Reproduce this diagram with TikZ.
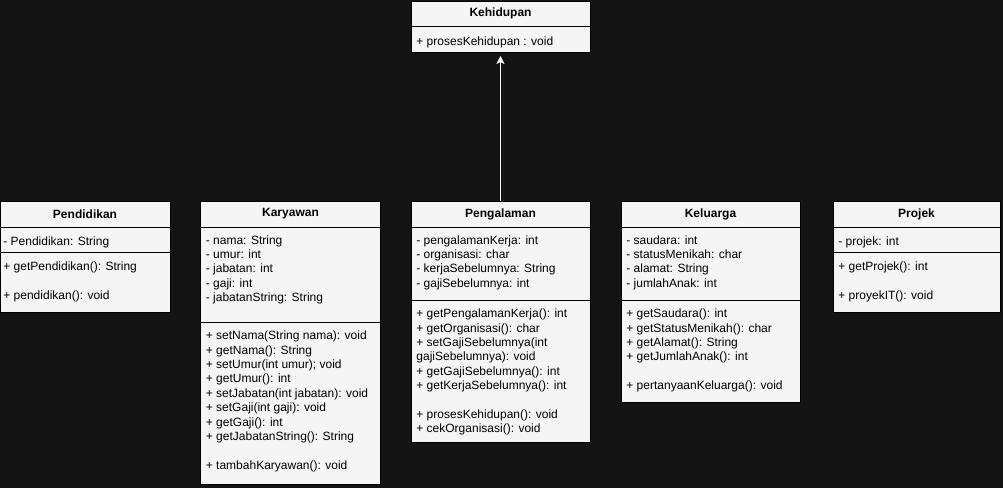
\documentclass[tikz,border=0pt]{standalone}
\usepackage{fontspec}
\setmainfont{Liberation Sans}
\usetikzlibrary{arrows.meta}
\definecolor{latar}{HTML}{141414}
\definecolor{isi}{HTML}{F5F5F5}

\begin{document}
\begin{tikzpicture}[x=1pt,y=-1pt,line width=0.8pt,>={Stealth[length=8pt,width=8pt,inset=2pt]},
  kelas/.style={draw=black,fill=isi,anchor=north west,inner sep=0pt,outer sep=0pt},
  judul/.style={inner sep=0pt,font=\fontsize{12}{14.4}\selectfont\bfseries},
  isian/.style={anchor=north west,align=left,inner sep=0pt,font=\fontsize{12}{14.4}\selectfont,
    execute at begin node={\rule{0pt}{10pt}}}]
  % latar
  \fill[latar] (0,0) rectangle (1003,488);
  \useasboundingbox (0,0) rectangle (1003,488);
  % Kehidupan
  \node[kelas,minimum width=179pt,minimum height=51pt] (kehidupan) at (411,1) {};
  \draw (411,26)--(590,26);
  \node[judul] (kehidupan-nama) at (500.5,13.5) {Kehidupan};
  \node[isian] (kehidupan-met) at (416,35) {+ prosesKehidupan : void};
  % Pendidikan
  \node[kelas,minimum width=170pt,minimum height=111pt] (pendidikan) at (0,201) {};
  \draw (0,227)--(170,227) (0,252)--(170,252);
  \node[judul] (pendidikan-nama) at (85,214) {Pendidikan};
  \node[isian] (pendidikan-atr) at (3,235) {- Pendidikan: String};
  \node[isian] (pendidikan-met) at (3,261.5) {+ getPendidikan(): String\\ \\+ pendidikan(): void};
  % Karyawan
  \node[kelas,minimum width=180pt,minimum height=283pt] (karyawan) at (200.5,201) {};
  \draw (200.5,227)--(380.5,227) (200.5,322)--(380.5,322);
  \node[judul] (karyawan-nama) at (290.5,214) {Karyawan};
  \node[isian] (karyawan-atr) at (205.5,235) {- nama: String\\- umur: int\\- jabatan: int\\- gaji: int\\- jabatanString: String};
  \node[isian] (karyawan-met) at (205.5,330.5) {+ setNama(String nama): void\\+ getNama(): String\\+ setUmur(int umur); void\\+ getUmur(): int\\+ setJabatan(int jabatan): void\\+ setGaji(int gaji): void\\+ getGaji(): int\\+ getJabatanString(): String\\ \\+ tambahKaryawan(): void};
  % Pengalaman
  \node[kelas,minimum width=179pt,minimum height=241pt] (pengalaman) at (411,201) {};
  \draw (411,227)--(590,227) (411,300)--(590,300);
  \node[judul] (pengalaman-nama) at (500.5,214) {Pengalaman};
  \node[isian] (pengalaman-atr) at (416,235) {- pengalamanKerja: int\\- organisasi: char\\- kerjaSebelumnya: String\\- gajiSebelumnya: int};
  \node[isian] (pengalaman-met) at (416,308.5) {+ getPengalamanKerja(): int\\+ getOrganisasi(): char\\+ setGajiSebelumnya(int\\gajiSebelumnya): void\\+ getGajiSebelumnya(): int\\+ getKerjaSebelumnya(): int\\ \\+ prosesKehidupan(): void\\+ cekOrganisasi(): void};
  % Keluarga
  \node[kelas,minimum width=179pt,minimum height=201pt] (keluarga) at (621,201) {};
  \draw (621,227)--(800,227) (621,300)--(800,300);
  \node[judul] (keluarga-nama) at (710.5,214) {Keluarga};
  \node[isian] (keluarga-atr) at (626,235) {- saudara: int\\- statusMenikah: char\\- alamat: String\\- jumlahAnak: int};
  \node[isian] (keluarga-met) at (626,308.5) {+ getSaudara(): int\\+ getStatusMenikah(): char\\+ getAlamat(): String\\+ getJumlahAnak(): int\\ \\+ pertanyaanKeluarga(): void};
  % Projek
  \node[kelas,minimum width=167pt,minimum height=111pt] (projek) at (833,201) {};
  \draw (833,227)--(1000,227) (833,252)--(1000,252);
  \node[judul] (projek-nama) at (916.5,214) {Projek};
  \node[isian] (projek-atr) at (838,235) {- projek: int};
  \node[isian] (projek-met) at (838,261.5) {+ getProjek(): int\\ \\+ proyekIT(): void};
  % pewarisan
  \draw[->,white,line width=1pt,shorten >=4pt] (pengalaman.north)--(kehidupan.south);
\end{tikzpicture}
\end{document}
